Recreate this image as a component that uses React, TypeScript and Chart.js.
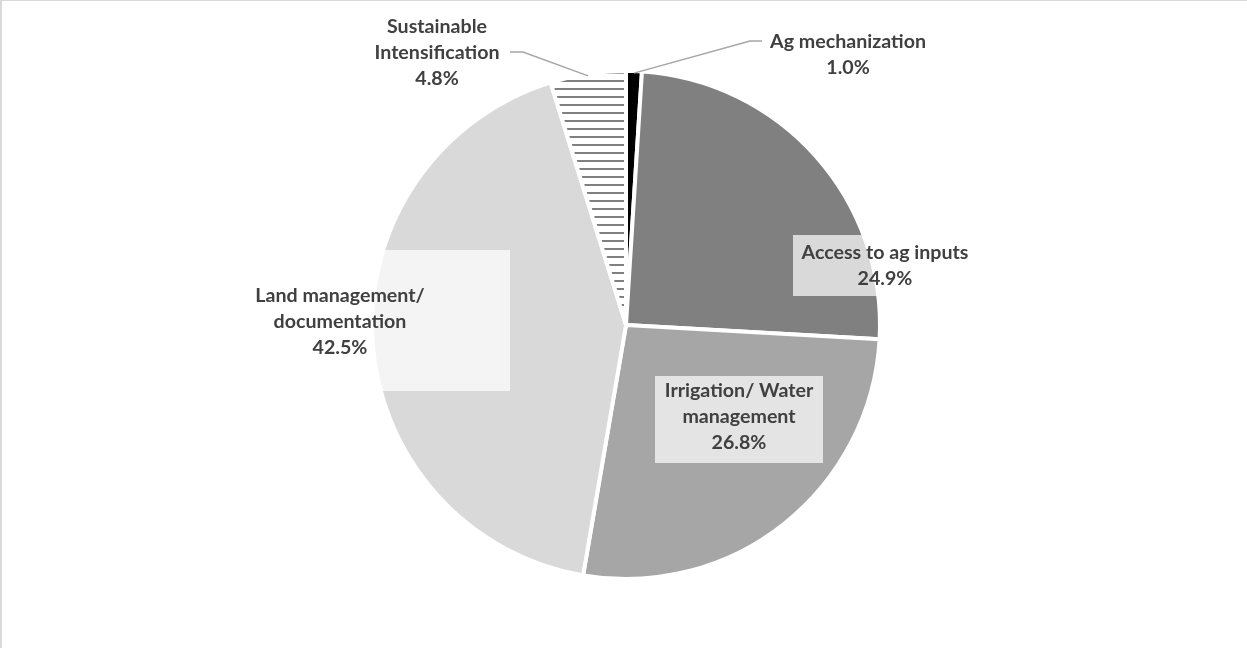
import React, { useEffect, useRef } from "react";
import { Chart, registerables } from "chart.js";

Chart.register(...registerables);

const categories = [
  "Ag mechanization",
  "Access to ag inputs",
  "Irrigation/ Water management",
  "Land management/ documentation",
  "Sustainable Intensification",
];
const labelLines = [
  ["Ag mechanization"],
  ["Access to ag inputs"],
  ["Irrigation/ Water", "management"],
  ["Land management/", "documentation"],
  ["Sustainable", "Intensification"],
];
const shares = [1.0, 24.9, 26.8, 42.5, 4.8];
const sliceColors = ["#000000", "#808080", "#a6a6a6", "#d9d9d9", "hatch"];

// label layout, pixel offsets from pie centre
type Layout = {
  dx: number;
  dy: number;
  box?: [number, number, number, number];
  leader?: [number, number][];
};
const labelLayout: Layout[] = [
  { dx: 222, dy: -270, leader: [[124, -284], [136, -284]] },
  { dx: 259, dy: -59, box: [-92, -31, 184, 61] },
  { dx: 113, dy: 92, box: [-84, -41, 168, 87] },
  { dx: -286, dy: -3, box: [-170, -72, 340, 141] },
  { dx: -189, dy: -272, leader: [[-103, -273], [-116, -273]] },
];

function makeHatch(): CanvasPattern | string {
  const c = document.createElement("canvas");
  c.width = 8;
  c.height = 8;
  const g = c.getContext("2d");
  if (!g) return "#ffffff";
  g.fillStyle = "#ffffff";
  g.fillRect(0, 0, 8, 8);
  g.fillStyle = "#808080";
  g.fillRect(0, 0, 8, 2);
  return g.createPattern(c, "repeat") || "#ffffff";
}

const labelPlugin = {
  id: "sliceLabels",
  afterDatasetsDraw(chart: any) {
    const ctx: CanvasRenderingContext2D = chart.ctx;
    const meta = chart.getDatasetMeta(0);
    ctx.save();
    ctx.font = "bold 100px Lato";
    const w = ctx.measureText("Access to ag inputs").width;
    const size = (100 * 167) / w;
    ctx.font = `bold ${size.toFixed(2)}px Lato`;
    const lh = 26;
    meta.data.forEach((arc: any, i: number) => {
      const lay = labelLayout[i];
      const cx = arc.x;
      const cy = arc.y;
      const lx = cx + lay.dx;
      const ly = cy + lay.dy;
      if (lay.leader) {
        const mid = (arc.startAngle + arc.endAngle) / 2;
        const r = arc.outerRadius - 2;
        ctx.beginPath();
        ctx.moveTo(cx + r * Math.cos(mid), cy + r * Math.sin(mid));
        lay.leader.forEach(([px, py]) => ctx.lineTo(cx + px, cy + py));
        ctx.strokeStyle = "#a6a6a6";
        ctx.lineWidth = 1.5;
        ctx.stroke();
      }
      if (lay.box) {
        const [bx, by, bw, bh] = lay.box;
        ctx.fillStyle = "rgba(255,255,255,0.7)";
        ctx.fillRect(lx + bx, ly + by, bw, bh);
      }
      const lines = [...labelLines[i], shares[i].toFixed(1) + "%"];
      ctx.fillStyle = "#404040";
      ctx.textAlign = "center";
      ctx.textBaseline = "middle";
      const top = ly - ((lines.length - 1) * lh) / 2;
      lines.forEach((t, k) => ctx.fillText(t, lx, top + k * lh));
    });
    ctx.restore();
  },
};

export default function App() {
  const ref = useRef<HTMLCanvasElement | null>(null);
  useEffect(() => {
    document.body.style.margin = "0";
    if (!ref.current) return;
    const hatch = makeHatch();
    const colors = sliceColors.map((c) => (c === "hatch" ? hatch : c));
    const chart = new Chart(ref.current, {
      type: "pie",
      data: {
        labels: categories,
        datasets: [
          {
            data: shares,
            backgroundColor: colors as any,
            borderColor: "#ffffff",
            borderWidth: 4,
            hoverOffset: 0,
          },
        ],
      },
      options: {
        animation: false,
        responsive: false,
        radius: 254,
        layout: { padding: { left: 5, top: 2, right: 0, bottom: 0 } },
        plugins: {
          legend: { display: false },
          tooltip: { enabled: false },
        },
      } as any,
      plugins: [labelPlugin],
    });
    return () => chart.destroy();
  }, []);
  return (
    <div
      style={{
        position: "absolute",
        left: 0,
        top: 0,
        width: 1247,
        height: 648,
        background: "#ffffff",
        overflow: "hidden",
      }}
    >
      <canvas ref={ref} width={1247} height={648} style={{ position: "absolute", left: 0, top: 0 }} />
      <div style={{ position: "absolute", left: 0, top: 0, width: 1247, height: 1, background: "#d9d9d9" }} />
      <div style={{ position: "absolute", left: 0, top: 0, width: 2, height: 648, background: "#d9d9d9" }} />
    </div>
  );
}
